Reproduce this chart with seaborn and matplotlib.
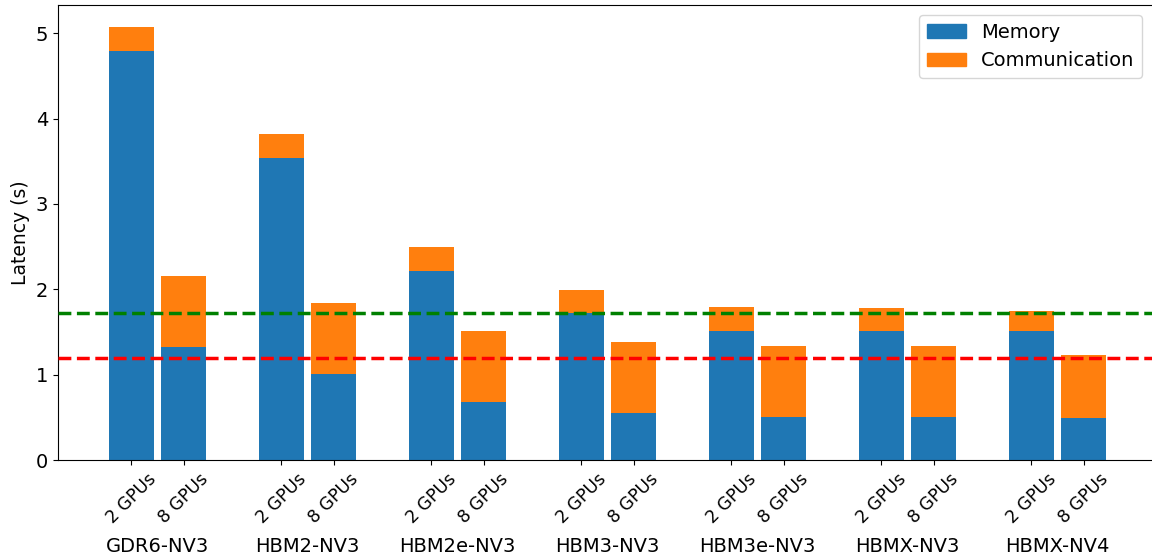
import pandas as pd
import seaborn as sns
import matplotlib.pyplot as plt
from matplotlib.patches import Patch

# Values
configs = ["GDR6-NV3", "HBM2-NV3", "HBM2e-NV3", "HBM3-NV3", "HBM3e-NV3", "HBMX-NV3", "HBMX-NV4"]
gpu_labels = ["2 GPUs", "8 GPUs"]
memory_2gpu = [4.79, 3.54, 2.21, 1.72, 1.51, 1.51, 1.51]
comm_2gpu = [0.28, 0.28, 0.28, 0.27, 0.28, 0.27, 0.23]
memory_8gpu = [1.32, 1.01, 0.68, 0.55, 0.50, 0.50, 0.49]
comm_8gpu = [0.83, 0.83, 0.83, 0.83, 0.83, 0.83, 0.74]
ref_green = 1.72
ref_red = 1.20

offset = 0.175
bar_w = 0.3

# one row per bar
rows = []
for i, cfg in enumerate(configs):
    rows.append({"pos": i - offset, "config": cfg, "gpus": gpu_labels[0],
                 "memory": memory_2gpu[i], "total": memory_2gpu[i] + comm_2gpu[i]})
    rows.append({"pos": i + offset, "config": cfg, "gpus": gpu_labels[1],
                 "memory": memory_8gpu[i], "total": memory_8gpu[i] + comm_8gpu[i]})
df = pd.DataFrame(rows)

blue = "#1f77b4"
orange = "#ff7f0e"

fig = plt.figure(figsize=(11.52, 5.58), dpi=100)
ax = fig.add_axes([0.0503, 0.1756, 0.9497, 0.8154])

# seaborn scales width by the smallest gap between positions
rel_w = bar_w / (2 * offset)

# stacked: draw totals (orange) then memory (blue) over them
sns.barplot(data=df, x="pos", y="total", native_scale=True, color=orange,
            saturation=1, width=rel_w, errorbar=None, linewidth=0, ax=ax)
sns.barplot(data=df, x="pos", y="memory", native_scale=True, color=blue,
            saturation=1, width=rel_w, errorbar=None, linewidth=0, ax=ax)

ax.axhline(ref_green, color="green", linestyle="--", linewidth=2.5, zorder=5)
ax.axhline(ref_red, color="red", linestyle="--", linewidth=2.5, zorder=5)

ax.set_xlim(-0.665, 6.63)
ax.set_ylim(0, 5.33)
ax.set_xticks(df["pos"], labels=df["gpus"], rotation=45, fontsize=12.5)
ax.set_yticks([0, 1, 2, 3, 4, 5])
ax.tick_params(axis="y", labelsize=14)
ax.set_xlabel("")
ax.set_ylabel("Latency (s)", fontsize=13.5)
ax.spines["right"].set_visible(False)

for i, cfg in enumerate(configs):
    ax.text(i, -0.19, cfg, transform=ax.get_xaxis_transform(),
            ha="center", va="center", fontsize=14)

handles = [Patch(color=blue, label="Memory"), Patch(color=orange, label="Communication")]
ax.legend(handles=handles, loc="upper right", fontsize=14)

fig.savefig("out.png", dpi=100)
